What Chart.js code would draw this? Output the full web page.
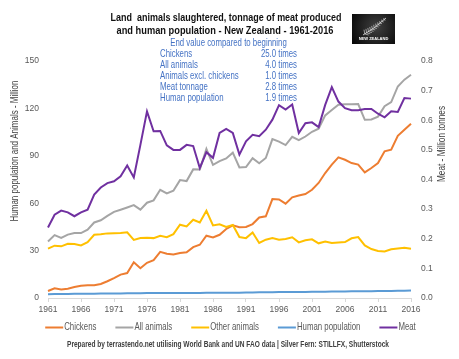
<!DOCTYPE html>
<html>
<head>
<meta charset="utf-8">
<script src="https://cdn.jsdelivr.net/npm/chart.js@4.4.0/dist/chart.umd.min.js"></script>
<style>
  html, body { margin: 0; padding: 0; background: #fff; }
  #wrap { width: 459px; height: 359px; position: relative; }
</style>
</head>
<body>
<div id="wrap"><canvas id="chart"></canvas></div>
<script>
// categories
const years = ['1961','1962','1963','1964','1965','1966','1967','1968','1969','1970',
  '1971','1972','1973','1974','1975','1976','1977','1978','1979','1980',
  '1981','1982','1983','1984','1985','1986','1987','1988','1989','1990',
  '1991','1992','1993','1994','1995','1996','1997','1998','1999','2000',
  '2001','2002','2003','2004','2005','2006','2007','2008','2009','2010',
  '2011','2012','2013','2014','2015','2016'];

// million animals / people (left axis)
const chickens = [4.4, 6.1, 5.4, 5.8, 6.9, 7.7, 8.0, 8.1, 8.9, 10.6,
  12.6, 14.8, 15.8, 22.6, 18.8, 22.3, 24.0, 29.2, 28.0, 27.5,
  28.5, 28.9, 32.2, 33.7, 39.4, 38.3, 40.0, 43.7, 46.0, 44.8,
  45.0, 46.8, 51.0, 51.7, 62.6, 62.4, 59.7, 63.7, 64.9, 65.8,
  68.5, 72.8, 79.1, 84.4, 89.0, 87.5, 85.4, 84.4, 79.5, 82.3,
  85.4, 92.8, 93.9, 102.7, 106.5, 110.3];
const allAnimals = [35.8, 39.8, 38.0, 40.1, 41.1, 41.1, 43.3, 47.8, 49.2, 52.0,
  54.5, 55.9, 57.3, 58.8, 55.9, 60.3, 61.8, 68.5, 66.2, 67.9,
  74.6, 74.0, 81.4, 81.3, 94.4, 84.3, 86.6, 88.3, 92.0, 82.6,
  82.9, 88.5, 85.3, 88.6, 100.6, 99.0, 96.8, 102.0, 99.9, 102.2,
  105.2, 107.2, 115.6, 119.0, 122.3, 122.6, 122.6, 122.7, 112.8, 113.0,
  114.8, 121.4, 124.0, 133.9, 138.2, 141.3];
const otherAnimals = [31.2, 33.1, 32.7, 34.3, 34.2, 33.3, 35.4, 40.0, 40.3, 40.9,
  41.0, 41.1, 41.6, 36.8, 37.9, 38.1, 37.9, 39.4, 38.5, 40.4,
  46.4, 45.3, 49.5, 47.8, 55.2, 45.9, 46.7, 45.0, 46.2, 38.6,
  37.9, 41.5, 34.8, 36.9, 38.0, 36.9, 37.3, 38.4, 35.2, 36.5,
  37.1, 34.6, 35.8, 34.8, 35.2, 35.4, 37.8, 38.6, 33.3, 31.0,
  29.8, 29.4, 30.8, 31.4, 31.8, 31.2];
const humanPop = [2.42, 2.48, 2.53, 2.59, 2.64, 2.69, 2.73, 2.75, 2.78, 2.81,
  2.86, 2.91, 2.97, 3.03, 3.08, 3.11, 3.12, 3.12, 3.11, 3.11,
  3.12, 3.16, 3.20, 3.23, 3.25, 3.25, 3.27, 3.28, 3.30, 3.33,
  3.48, 3.53, 3.57, 3.62, 3.67, 3.73, 3.78, 3.81, 3.84, 3.86,
  3.88, 3.95, 4.03, 4.09, 4.13, 4.18, 4.22, 4.26, 4.30, 4.35,
  4.38, 4.41, 4.44, 4.51, 4.60, 4.69];

// million tonnes (right axis)
const meat = [0.238, 0.281, 0.295, 0.289, 0.276, 0.289, 0.298, 0.349, 0.373, 0.388,
  0.394, 0.411, 0.447, 0.407, 0.517, 0.630, 0.563, 0.564, 0.515, 0.500,
  0.500, 0.517, 0.513, 0.439, 0.492, 0.473, 0.557, 0.571, 0.557, 0.484,
  0.529, 0.551, 0.546, 0.568, 0.602, 0.651, 0.636, 0.653, 0.557, 0.590,
  0.593, 0.577, 0.652, 0.712, 0.663, 0.641, 0.634, 0.634, 0.638, 0.638,
  0.622, 0.610, 0.630, 0.628, 0.675, 0.673];

const titleLines = ['Land  animals slaughtered, tonnage of meat produced',
  'and human population - New Zealand - 1961-2016'];
const noteHead = 'End value compared to beginning';
const noteLabels = ['Chickens', 'All animals', 'Animals excl. chickens', 'Meat tonnage', 'Human population'];
const noteValues = ['25.0 times', '4.0 times', '1.0 times', '2.8 times', '1.9 times'];
const footer = 'Prepared by terrastendo.net utilising World Bank and UN FAO data | Silver Fern: STILLFX, Shutterstock';

// pick a condensed face if one is installed, otherwise squeeze Liberation Sans
function hasFont(name) {
  const c = document.createElement('canvas').getContext('2d');
  const s = 'Hamburgevons 1961 0123456789';
  c.font = '20px monospace';
  const a = c.measureText(s).width;
  c.font = "20px '" + name + "', monospace";
  return c.measureText(s).width !== a;
}
const narrow = hasFont('Liberation Sans Narrow');
const FAMILY = narrow ? "'Liberation Sans Narrow'" : "'Liberation Sans', Arial, sans-serif";
const SQ = narrow ? 0.91 : 0.745;
const grey = '#595959';

function squeezed(ctx, text, x, y, align) {
  ctx.save();
  ctx.translate(x, y);
  ctx.scale(SQ, 1);
  ctx.textAlign = align;
  ctx.fillText(text, 0, 0);
  ctx.restore();
}

// silver fern logo, top right
function drawFern(ctx) {
  const x = 352, y = 14, w = 43, h = 30;
  const g = ctx.createRadialGradient(x + 24, y + 13, 2, x + 24, y + 13, 28);
  g.addColorStop(0, '#3c3c3c');
  g.addColorStop(1, '#070707');
  ctx.fillStyle = g;
  ctx.fillRect(x, y, w, h);

  const p0 = [x + 11, y + 21], p1 = [x + 22, y + 15], p2 = [x + 34, y + 4];
  ctx.strokeStyle = '#e6e6e6';
  ctx.lineWidth = 0.8;
  ctx.beginPath();
  ctx.moveTo(p0[0], p0[1]);
  ctx.quadraticCurveTo(p1[0], p1[1], p2[0], p2[1]);
  ctx.stroke();
  ctx.lineWidth = 0.6;
  ctx.beginPath();
  for (let k = 1; k < 12; k++) {
    const t = k / 12, u = 1 - t;
    const px = u * u * p0[0] + 2 * u * t * p1[0] + t * t * p2[0];
    const py = u * u * p0[1] + 2 * u * t * p1[1] + t * t * p2[1];
    const len = 4.5 * (1 - t * 0.7);
    ctx.moveTo(px, py); ctx.lineTo(px - len * 0.2, py - len);
    ctx.moveTo(px, py); ctx.lineTo(px + len * 0.9, py + len * 0.25);
  }
  ctx.stroke();

  ctx.fillStyle = '#ffffff';
  ctx.font = 'bold 4px ' + FAMILY;
  ctx.textAlign = 'center';
  ctx.textBaseline = 'middle';
  ctx.fillText('NEW ZEALAND', x + w / 2, y + h - 5.5, 32);
}

const decor = {
  id: 'decor',
  afterDraw(chart) {
    const ctx = chart.ctx;
    ctx.save();
    ctx.textBaseline = 'middle';

    // title
    ctx.fillStyle = '#111111';
    ctx.textAlign = 'center';
    ctx.font = 'bold 11.5px ' + FAMILY;
    ctx.fillText(titleLines[0], 226, 17.5, 231);
    ctx.fillText(titleLines[1], 225, 31, 217);

    // blue note block
    ctx.fillStyle = '#4472C4';
    ctx.font = '10.5px ' + FAMILY;
    squeezed(ctx, noteHead, 228.5, 43, 'center');
    noteLabels.forEach((t, i) => {
      squeezed(ctx, t, 160, 54 + i * 11.1, 'left');
      squeezed(ctx, noteValues[i], 297, 54 + i * 11.1, 'right');
    });

    // axis titles
    ctx.fillStyle = '#404040';
    ctx.font = '10px ' + FAMILY;
    ctx.textAlign = 'center';
    ctx.save();
    ctx.translate(15, 151);
    ctx.rotate(-Math.PI / 2);
    ctx.fillText('Human population and Animals - Million', 0, 0, 141);
    ctx.restore();
    ctx.save();
    ctx.translate(442, 144);
    ctx.rotate(-Math.PI / 2);
    ctx.fillText('Meat - Million tonnes', 0, 0, 76);
    ctx.restore();

    // legend, one row, built from the datasets
    const ly = 327.5, lineLen = 18, gap = 19;
    ctx.font = '10.5px ' + FAMILY;
    const items = chart.data.datasets.map((d) => ({
      label: d.label, color: d.borderColor, w: ctx.measureText(d.label).width * SQ
    }));
    const total = items.reduce((s, it) => s + lineLen + 1 + it.w, 0) + gap * (items.length - 1);
    let cx = 230.5 - total / 2;
    items.forEach((it) => {
      ctx.strokeStyle = it.color;
      ctx.lineWidth = 2;
      ctx.beginPath();
      ctx.moveTo(cx, ly);
      ctx.lineTo(cx + lineLen, ly);
      ctx.stroke();
      ctx.fillStyle = grey;
      squeezed(ctx, it.label, cx + lineLen + 1, ly, 'left');
      cx += lineLen + 1 + it.w + gap;
    });

    // footer
    ctx.fillStyle = '#404040';
    ctx.textAlign = 'center';
    ctx.font = 'bold 8.5px ' + FAMILY;
    ctx.fillText(footer, 228, 345, 322);

    drawFern(ctx);
    ctx.restore();
  }
};

function line(label, data, color, axis, order) {
  return {
    label: label,
    data: data,
    borderColor: color,
    backgroundColor: color,
    borderWidth: 2,
    pointRadius: 0,
    pointHoverRadius: 0,
    tension: 0,
    yAxisID: axis,
    order: order
  };
}

const tickFont = { family: FAMILY, size: 8.5 };

new Chart(document.getElementById('chart'), {
  type: 'line',
  data: {
    labels: years,
    datasets: [
      line('Chickens', chickens, '#ED7D31', 'y', 5),
      line('All animals', allAnimals, '#A5A5A5', 'y', 4),
      line('Other animals', otherAnimals, '#FFC000', 'y', 3),
      line('Human population', humanPop, '#5B9BD5', 'y', 2),
      line('Meat', meat, '#7030A0', 'y1', 1)
    ]
  },
  options: {
    responsive: true,
    maintainAspectRatio: false,
    animation: false,
    devicePixelRatio: 1,
    layout: { padding: { top: 61, left: 0, right: 0, bottom: 41 } },
    plugins: {
      title: { display: false },
      tooltip: { enabled: false },
      legend: { display: false }
    },
    scales: {
      x: {
        type: 'category',
        offset: false,
        grid: { display: true, drawOnChartArea: false, drawTicks: true, tickLength: 4, color: '#D9D9D9' },
        border: { display: true, color: '#D9D9D9' },
        ticks: {
          autoSkip: false,
          maxRotation: 0,
          padding: 3,
          color: grey,
          font: tickFont,
          callback: (v, i) => (i % 5 === 0 ? years[i] : null)
        },
        afterFit: (s) => { s.height = 20; }
      },
      y: {
        position: 'left',
        min: 0,
        max: 150,
        grid: { display: false, drawTicks: false },
        border: { display: false },
        ticks: { stepSize: 30, padding: 9, color: grey, font: tickFont },
        afterFit: (s) => { s.width = 48; }
      },
      y1: {
        position: 'right',
        min: 0,
        max: 0.8,
        grid: { display: false, drawTicks: false },
        border: { display: false },
        ticks: {
          stepSize: 0.1,
          padding: 10,
          color: grey,
          font: tickFont,
          callback: (v) => v.toFixed(1)
        },
        afterFit: (s) => { s.width = 48; }
      }
    }
  },
  plugins: [decor]
});
</script>
</body>
</html>
